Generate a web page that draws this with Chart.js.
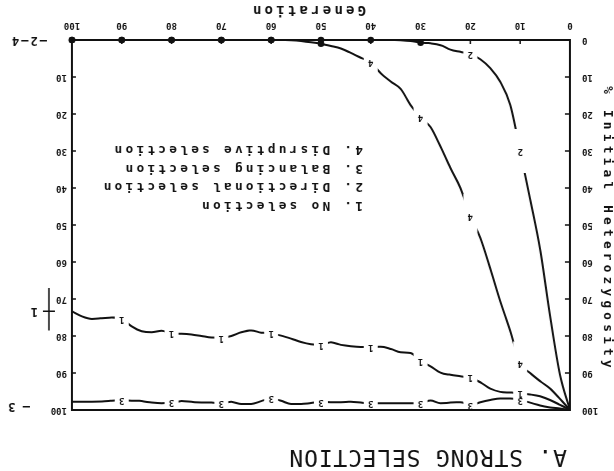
<!DOCTYPE html>
<html>
<head>
<meta charset="utf-8">
<script src="https://cdn.jsdelivr.net/npm/chart.js@4.4.1/dist/chart.umd.min.js"></script>
<style>
  html, body { margin: 0; padding: 0; background: #fff; }
  #wrap { width: 614px; height: 471px; transform: rotate(180deg); }
  canvas { display: block; }
</style>
</head>
<body>
<div id="wrap"><canvas id="chart" width="614" height="471"></canvas></div>
<script>
// Generations sampled every 2
const generations = [0,2,4,6,8,10,12,14,16,18,20,22,24,26,28,30,32,34,36,38,40,42,44,46,48,50,
  52,54,56,58,60,62,64,66,68,70,72,74,76,78,80,82,84,86,88,90,92,94,96,98,100];

// % initial heterozygosity remaining
const noSelection = [100,98.6,97.3,96.3,95.8,95.5,95.3,95.1,94.2,92.5,91.3,90.9,90.5,89.9,88.2,86.8,
  84.6,84.4,83.5,82.9,83.0,83.0,82.8,82.4,81.7,82.4,82.2,81.6,80.7,79.9,79.3,79.1,78.5,79.0,80.0,80.5,
  80.4,80.0,79.6,79.4,79.3,78.6,79.0,78.7,77.4,75.4,75.0,75.2,75.4,74.7,73.3];
const directional = [100,90.5,74.5,56.5,43,30,17.5,11.3,7.6,5.2,3.8,3.2,2.6,1.4,0.9,0.7,0.3,0.1,
  0,0,0,0,0,0,0,0,0,0,0,0,0,0,0,0,0,0,0,0,0,0,0,0,0,0,0,0,0,0,0,0,0];
const balancing = [100,99.6,99.3,98.8,98.0,97.3,96.9,96.9,97.3,97.9,98.7,97.9,98.0,98.2,97.4,98.2,
  98.2,98.2,98.2,98.2,98.2,98.0,97.8,97.9,97.9,97.8,98.1,98.4,98.4,97.5,96.9,97.6,98.4,98.4,97.8,98.2,
  98.0,98.0,97.8,97.6,98.0,98.2,98.0,97.6,97.5,97.3,97.5,97.7,97.8,97.8,97.8];
const disruptive = [100,97,94.2,92.2,90,87.4,78.6,70.6,61.8,53.5,47.6,40,34.6,28.8,23.5,21,17.6,13.2,
  11.2,9,6,4.8,3.5,2.3,1.6,1,0.6,0.3,0.1,0,0,0,0,0,0,0,0,0,0,0,0,0,0,0,0,0,0,0,0,0,0];

const seriesNames = ['1. No selection', '2. Directional selection', '3. Balancing selection', '4. Disruptive selection'];
const seriesMarks = ['1', '2', '3', '4'];
// generations at which each curve carries its number
const marksShort = [10,20,30,40,50,60,70,80,90];
const marksLong = [10,20,30,40,50,60,70,80,90,100];

const chartTitle = 'A. STRONG SELECTION';
const xTitle = 'Generation';
const yTitle = '% Initial Heterozygosity';

const INK = '#111';
const MONO = '"DejaVu Sans Mono", "Liberation Mono", monospace';

const toPoints = vals => generations.map((g, i) => ({ x: g, y: vals[i] }));

function makeSeries(vals, mark, marks) {
  return {
    data: toPoints(vals),
    mark: mark,
    markAt: marks,
    borderColor: INK,
    borderWidth: 2,
    pointRadius: 0,
    cubicInterpolationMode: 'monotone',
    fill: false
  };
}

// Break each curve around its number and print the number there
const curveMarks = {
  id: 'curveMarks',
  beforeDatasetDraw(chart, args) {
    const ds = chart.data.datasets[args.index];
    const ctx = chart.ctx;
    ctx.save();
    ctx.beginPath();
    ctx.rect(0, 0, chart.width, chart.height);
    args.meta.data.forEach((pt, i) => {
      if (ds.markAt.includes(generations[i]) && ds.data[i].y >= 1.5) {
        ctx.rect(pt.x - 7, pt.y - 22, 14, 44);
      }
    });
    ctx.clip('evenodd');
  },
  afterDatasetDraw(chart, args) {
    const ds = chart.data.datasets[args.index];
    const ctx = chart.ctx;
    ctx.restore();
    ctx.save();
    ctx.fillStyle = INK;
    ctx.font = 'bold 9px ' + MONO;
    ctx.textAlign = 'center';
    ctx.textBaseline = 'middle';
    args.meta.data.forEach((pt, i) => {
      if (!ds.markAt.includes(generations[i])) return;
      if (ds.data[i].y >= 1.5) {
        ctx.fillText(ds.mark, pt.x, pt.y);
      } else {
        ctx.beginPath();
        ctx.arc(pt.x, pt.y, 3.3, 0, Math.PI * 2);
        ctx.fill();
      }
    });
    ctx.restore();
  }
};

// Box frame with inward tick marks
const frameAndTicks = {
  id: 'frameAndTicks',
  afterDatasetsDraw(chart) {
    const { ctx, chartArea: a, scales } = chart;
    ctx.save();
    ctx.strokeStyle = INK;
    ctx.lineWidth = 2;
    ctx.strokeRect(a.left, a.top, a.right - a.left, a.bottom - a.top);
    ctx.lineWidth = 1.5;
    ctx.beginPath();
    scales.x.ticks.forEach(t => {
      const p = scales.x.getPixelForValue(t.value);
      ctx.moveTo(p, a.bottom); ctx.lineTo(p, a.bottom - 4);
    });
    scales.y.ticks.forEach(t => {
      const p = scales.y.getPixelForValue(t.value);
      ctx.moveTo(a.left, p); ctx.lineTo(a.left + 5, p);
    });
    scales.y2.ticks.forEach(t => {
      const p = scales.y2.getPixelForValue(t.value);
      ctx.moveTo(a.right, p); ctx.lineTo(a.right - 4, p);
    });
    ctx.stroke();
    ctx.restore();
  }
};

// Titles, key and curve end notes
const notes = {
  id: 'notes',
  afterDraw(chart) {
    const { ctx, chartArea: a, scales: { y } } = chart;
    ctx.save();
    ctx.fillStyle = INK;
    ctx.strokeStyle = INK;

    ctx.font = '23px ' + MONO;
    ctx.letterSpacing = '0.8px';
    ctx.textAlign = 'left';
    ctx.textBaseline = 'alphabetic';
    ctx.fillText(chartTitle, 47, 21);

    ctx.font = 'bold 12.8px ' + MONO;
    ctx.letterSpacing = '4.2px';
    ctx.textAlign = 'center';
    ctx.textBaseline = 'middle';
    ctx.save();
    ctx.translate(7, (a.top + a.bottom) / 2 - 4);
    ctx.rotate(-Math.PI / 2);
    ctx.fillText(yTitle, 0, 0);
    ctx.restore();

    ctx.font = 'bold 14px ' + MONO;
    ctx.letterSpacing = '3.2px';
    ctx.fillText(xTitle, (a.left + a.right) / 2 + 13, 461);

    ctx.font = 'bold 12.7px ' + MONO;
    ctx.letterSpacing = '3.3px';
    ctx.textAlign = 'left';
    seriesNames.forEach((n, i) => ctx.fillText(n, 251, 266 + i * 18.5));

    ctx.font = 'bold 12px ' + MONO;
    ctx.letterSpacing = '0px';
    ctx.fillText('\u2014 3', 584, y.getPixelForValue(100) + 4);
    ctx.letterSpacing = '2px';
    ctx.fillText('\u20142\u20144', 567, y.getPixelForValue(0));
    ctx.letterSpacing = '0px';
    const endVal = noSelection[noSelection.length - 1];
    ctx.lineWidth = 1.5;
    ctx.beginPath();
    ctx.moveTo(565, y.getPixelForValue(78.5));
    ctx.lineTo(565, y.getPixelForValue(67));
    ctx.moveTo(559, y.getPixelForValue(endVal));
    ctx.lineTo(571, y.getPixelForValue(endVal));
    ctx.stroke();
    ctx.fillText('1', 576, y.getPixelForValue(endVal));
    ctx.restore();
  }
};

const tickFont = { family: MONO, size: 9, weight: 'bold' };

new Chart(document.getElementById('chart'), {
  type: 'line',
  data: {
    datasets: [
      makeSeries(noSelection, seriesMarks[0], marksShort),
      makeSeries(directional, seriesMarks[1], marksLong),
      makeSeries(balancing, seriesMarks[2], marksShort),
      makeSeries(disruptive, seriesMarks[3], marksLong)
    ]
  },
  options: {
    responsive: false,
    animation: false,
    devicePixelRatio: 1,
    layout: { padding: { top: 61, left: 0, right: 0, bottom: 0 } },
    plugins: { legend: { display: false }, tooltip: { enabled: false }, title: { display: false } },
    scales: {
      x: {
        type: 'linear', position: 'bottom', min: 0, max: 100,
        grid: { display: false, drawTicks: false },
        border: { display: false },
        ticks: { stepSize: 10, color: INK, font: tickFont, padding: 9, maxRotation: 0 },
        afterFit: s => { s.height = 40; }
      },
      y: {
        type: 'linear', position: 'left', min: 0, max: 100,
        grid: { display: false, drawTicks: false },
        border: { display: false },
        ticks: { stepSize: 10, color: INK, font: tickFont, padding: 12 },
        afterFit: s => { s.width = 44; }
      },
      y2: {
        type: 'linear', position: 'right', min: 0, max: 100,
        grid: { display: false, drawTicks: false },
        border: { display: false },
        ticks: { stepSize: 10, color: INK, font: tickFont, padding: 5,
                 callback: v => (v === 0 ? '' : v) },
        afterFit: s => { s.width = 72; }
      }
    }
  },
  plugins: [curveMarks, frameAndTicks, notes]
});
</script>
</body>
</html>
